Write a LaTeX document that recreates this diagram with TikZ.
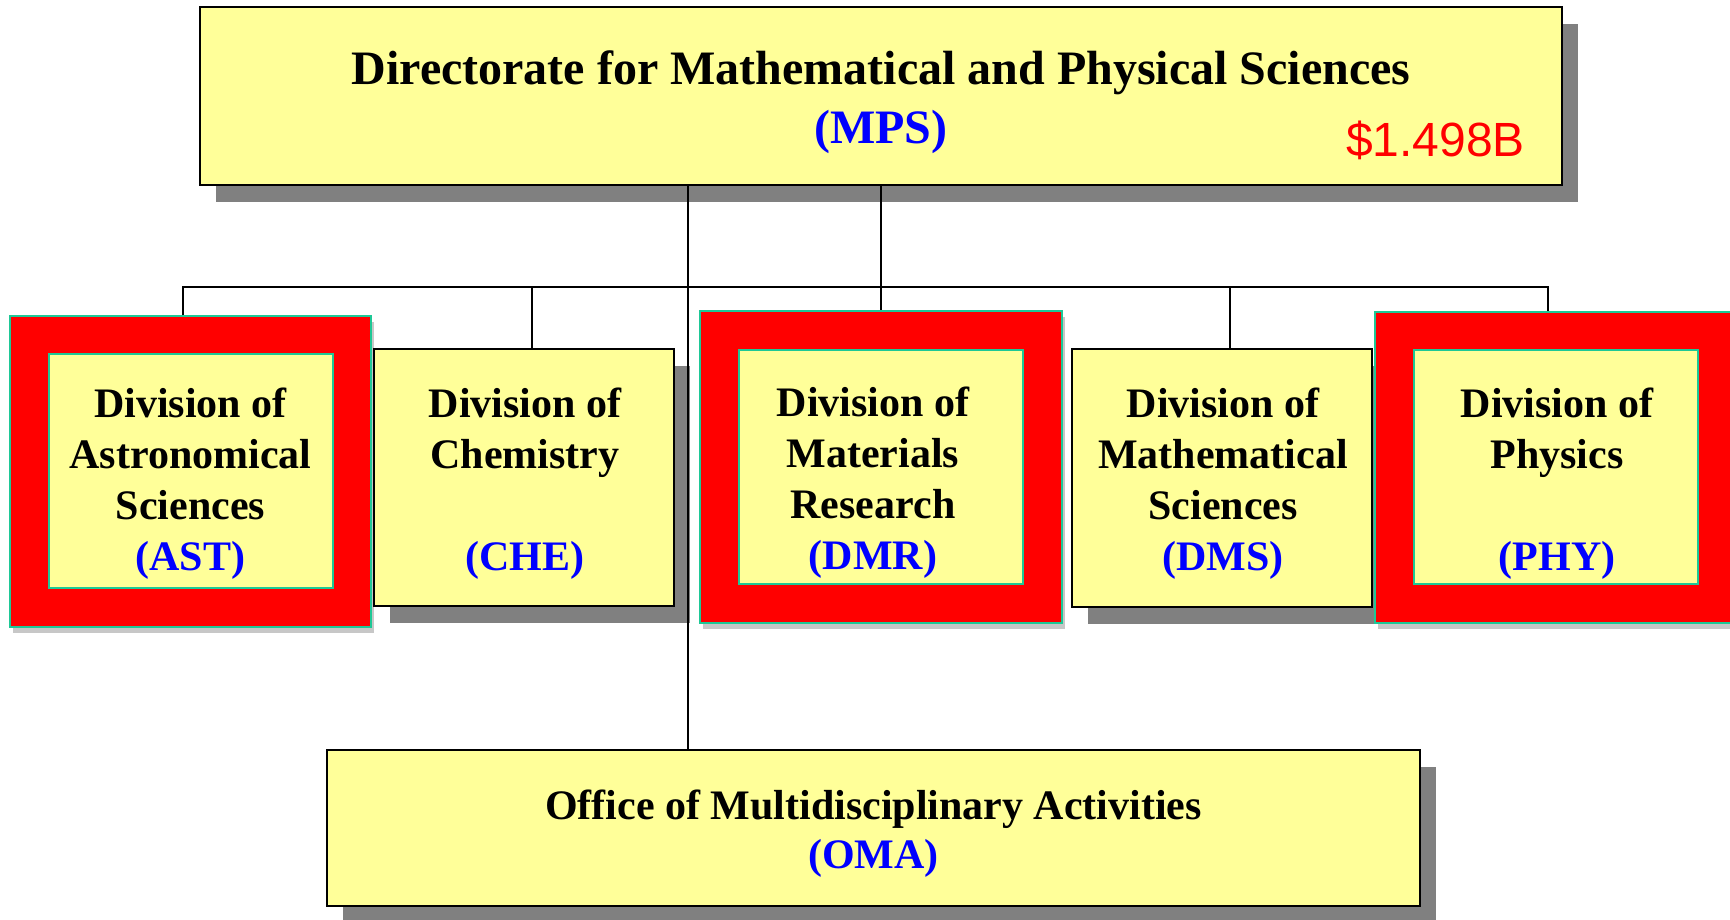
\documentclass[tikz,border=0pt]{standalone}
\usepackage{fontspec}
\setmainfont{Liberation Serif}
\newfontfamily\arialf{Liberation Sans}
\usetikzlibrary{shadows}
\definecolor{yfill}{RGB}{255,255,153}
\definecolor{shgray}{RGB}{128,128,128}
\definecolor{teal2}{RGB}{30,200,150}
\definecolor{pblue}{RGB}{0,0,255}
\definecolor{pred}{RGB}{255,0,0}
\begin{document}
\begin{tikzpicture}[x=1pt,y=-1pt,
  plainbox/.style={rectangle, draw=black, line width=2.5pt, fill=yfill, inner sep=0pt,
    drop shadow={shadow xshift=16pt, shadow yshift=-17pt, fill=shgray, opacity=1}},
  redframe/.style={rectangle, draw=teal2, line width=2pt, fill=pred, inner sep=0pt,
    drop shadow={shadow xshift=3pt, shadow yshift=-6pt, fill=black, opacity=0.22}},
  innerbox/.style={rectangle, draw=teal2, line width=2pt, fill=yfill, inner sep=0pt},
  conn/.style={draw=black, line width=2pt},
  divtext/.style={anchor=north, align=center, inner sep=0pt, font=\fontsize{42}{51}\selectfont\bfseries},
  bigtext/.style={anchor=north, align=center, inner sep=0pt}
]
\useasboundingbox (0,0) rectangle (1730,919);

% top box
\node[plainbox, minimum width=1362pt, minimum height=178pt] (top) at (881,96) {};
\node[bigtext, font=\fontsize{48}{59}\selectfont\bfseries] (top-t) at (881,50)
  {Directorate for Mathematical and Physical Sciences\\\textcolor{pblue}{(MPS)}};
\node[anchor=base, inner sep=0pt, text=pred, font=\arialf\fontsize{48}{48}\selectfont] (budget) at (1435.5,156) {\$1.498B};

% AST
\node[redframe, minimum width=361pt, minimum height=311pt] (ast-o) at (190.5,471.5) {};
\node[innerbox, minimum width=284pt, minimum height=234pt] (ast) at (191,471) {};
\node[divtext] (ast-t) at (190.5,387.5) {Division of\\Astronomical\\Sciences\\\textcolor{pblue}{(AST)}};

% CHE
\node[plainbox, minimum width=300pt, minimum height=257pt] (che) at (524,477.5) {};
\node[divtext] (che-t) at (525,387.5) {Division of\\Chemistry\\\mbox{}\\\textcolor{pblue}{(CHE)}};

% DMR
\node[redframe, minimum width=362pt, minimum height=312pt] (dmr-o) at (881,467) {};
\node[innerbox, minimum width=284.5pt, minimum height=234pt] (dmr) at (881,467) {};
\node[divtext] (dmr-t) at (873,387) {Division of\\Materials\\Research\\\textcolor{pblue}{(DMR)}};

% DMS
\node[plainbox, minimum width=300pt, minimum height=258pt] (dms) at (1222,478) {};
\node[divtext] (dms-t) at (1223,387.5) {Division of\\Mathematical\\Sciences\\\textcolor{pblue}{(DMS)}};

% PHY
\node[redframe, minimum width=362pt, minimum height=311pt] (phy-o) at (1556,467.5) {};
\node[innerbox, minimum width=284pt, minimum height=234pt] (phy) at (1556,467) {};
\node[divtext] (phy-t) at (1557,387.5) {Division of\\Physics\\\mbox{}\\\textcolor{pblue}{(PHY)}};

% OMA
\node[plainbox, minimum width=1093pt, minimum height=156pt] (oma) at (873.5,828) {};
\node[bigtext, font=\fontsize{42}{49}\selectfont\bfseries] (oma-t) at (873.5,790)
  {Office of Multidisciplinary Activities\\\textcolor{pblue}{(OMA)}};

% connectors
\coordinate (bl) at (183,287);
\coordinate (br) at (1548,287);
\coordinate (bc) at (532,287);
\coordinate (bd) at (1230,287);
\coordinate (jo) at (688,287);
\draw[conn] (ast-o.north -| bl) -- (bl) -- (br) -- (phy-o.north -| br);
\draw[conn] (bc) -- (che.north -| bc);
\draw[conn] (bd) -- (dms.north -| bd);
\draw[conn] (top.south) -- (dmr-o.north);
\draw[conn] (top.south -| jo) -- (oma.north -| jo);
\end{tikzpicture}
\end{document}
